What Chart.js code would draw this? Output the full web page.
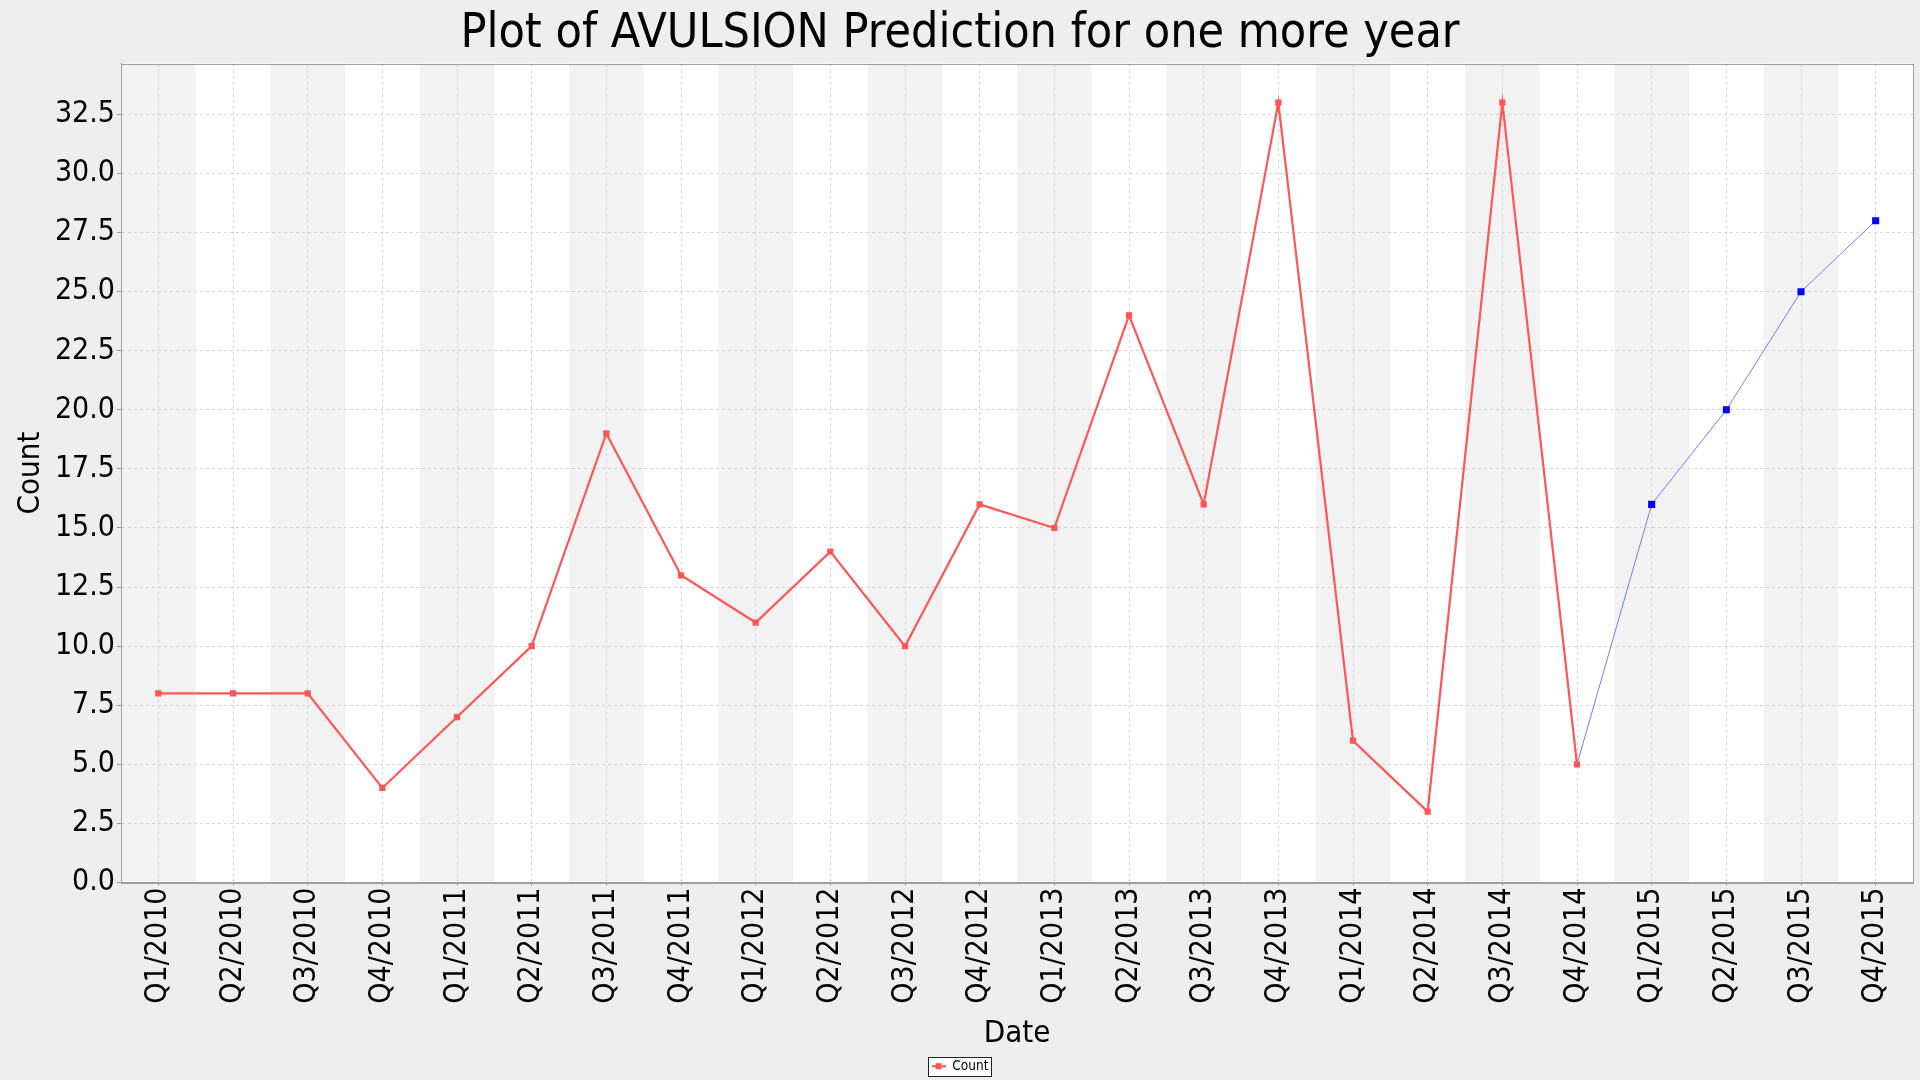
<!DOCTYPE html>
<html>
<head>
<meta charset="utf-8">
<title>Plot of AVULSION Prediction</title>
<script src="https://cdn.jsdelivr.net/npm/chart.js@4.4.1/dist/chart.umd.min.js"></script>
<style>
    html, body { margin: 0; padding: 0; background: #eeeeee; }
    #wrap { width: 1920px; height: 1080px; position: relative; }
</style>
</head>
<body>
<div id="wrap"><canvas id="avulsion-chart"></canvas></div>
<script>
// Chart data
const quarterLabels = [
    'Q1/2010', 'Q2/2010', 'Q3/2010', 'Q4/2010',
    'Q1/2011', 'Q2/2011', 'Q3/2011', 'Q4/2011',
    'Q1/2012', 'Q2/2012', 'Q3/2012', 'Q4/2012',
    'Q1/2013', 'Q2/2013', 'Q3/2013', 'Q4/2013',
    'Q1/2014', 'Q2/2014', 'Q3/2014', 'Q4/2014',
    'Q1/2015', 'Q2/2015', 'Q3/2015', 'Q4/2015',
];
const actualCounts = [8, 8, 8, 4, 7, 10, 19, 13, 11, 14, 10, 16, 15, 24, 16, 33, 6, 3, 33, 5];
// prediction line starts from the last actual quarter (Q4/2014)
const predictedCounts = [5, 16, 20, 25, 28];
const yTickStep = 2.5;
const yAxisMax = 34.65;

const predictionStart = actualCounts.length - 1;
const actualSeries = quarterLabels.map((_, i) => (i < actualCounts.length ? actualCounts[i] : null));
const predictedSeries = quarterLabels.map((_, i) => (i >= predictionStart ? predictedCounts[i - predictionStart] : null));

const FONT = "'DejaVu Sans Condensed', 'DejaVu Sans', sans-serif";
Chart.defaults.font.family = FONT;
Chart.defaults.color = '#000000';

// legend marker: short line with a square in the middle
function legendMarker() {
    const c = document.createElement('canvas');
    c.width = 14;
    c.height = 8;
    const g = c.getContext('2d');
    g.fillStyle = '#ff5555';
    g.fillRect(0, 3, 14, 2);
    g.fillRect(4, 1, 6, 6);
    return c;
}

// page background, plot background with alternating category bands, legend box
const plotBackground = {
    id: 'plotBackground',
    beforeDraw(chart) {
        const { ctx, chartArea: a, scales: { x } } = chart;
        ctx.save();
        ctx.fillStyle = '#eeeeee';
        ctx.fillRect(0, 0, chart.width, chart.height);
        ctx.fillStyle = '#ffffff';
        ctx.fillRect(a.left, a.top, a.right - a.left, a.bottom - a.top);
        const half = (x.getPixelForValue(1) - x.getPixelForValue(0)) / 2;
        ctx.fillStyle = '#f2f2f2';
        quarterLabels.forEach((_, i) => {
            if (i % 2 !== 0) return;
            const cx = x.getPixelForValue(i);
            ctx.fillRect(cx - half, a.top, half * 2, a.bottom - a.top);
        });

        const hb = chart.legend && chart.legend.legendHitBoxes && chart.legend.legendHitBoxes[0];
        if (hb) {
            const l = Math.round(hb.left) - 3.5, t = Math.round(hb.top) - 2.5;
            const w = Math.round(hb.width) + 6, h = Math.round(hb.height) + 5;
            ctx.fillStyle = '#ffffff';
            ctx.fillRect(l, t, w, h);
            ctx.strokeStyle = '#222222';
            ctx.lineWidth = 1;
            ctx.strokeRect(l, t, w, h);
        }
        ctx.restore();
    },
    beforeDatasetsDraw(chart) {
        const { ctx, chartArea: a } = chart;
        ctx.save();
        ctx.strokeStyle = '#a0a0a0';
        ctx.lineWidth = 1;
        ctx.strokeRect(Math.round(a.left) + 0.5, Math.round(a.top) + 0.5,
            Math.round(a.right - a.left), Math.round(a.bottom - a.top));
        ctx.restore();
    },
};

const ctx = document.getElementById('avulsion-chart');
new Chart(ctx, {
    type: 'line',
    data: {
        labels: quarterLabels,
        datasets: [{
            label: 'Count',
            data: actualSeries,
            borderColor: '#ff5555',
            backgroundColor: '#ff5555',
            borderWidth: 2.2,
            tension: 0,
            pointStyle: 'rect',
            pointRadius: 4.4,
            pointBorderWidth: 0,
            pointBackgroundColor: '#ff5555',
        }, {
            label: 'Prediction',
            data: predictedSeries,
            borderColor: '#7a7aff',
            backgroundColor: '#0000ff',
            borderWidth: 1,
            tension: 0,
            pointStyle: 'rect',
            pointRadius: c => (c.dataIndex === predictionStart ? 0 : 5),
            pointBorderWidth: 0,
            pointBackgroundColor: '#0000ff',
        }],
    },
    options: {
        responsive: true,
        maintainAspectRatio: false,
        animation: false,
        layout: { padding: { left: 7, right: 7, bottom: -3 } },
        plugins: {
            title: {
                display: true,
                text: 'Plot of AVULSION Prediction for one more year',
                color: '#000000',
                font: { size: 48, weight: 'normal' },
                padding: { top: 6, bottom: 0 },
            },
            legend: {
                position: 'bottom',
                labels: {
                    filter: item => item.datasetIndex === 0,
                    usePointStyle: true,
                    pointStyle: legendMarker(),
                    pointStyleWidth: 14,
                    color: '#000000',
                    font: { size: 13.5 },
                    padding: 7,
                },
            },
            tooltip: { enabled: false },
        },
        scales: {
            x: {
                offset: true,
                afterFit: s => { s.height = 170; },
                grid: { color: '#d6d6d6', lineWidth: 1, tickLength: 3, tickColor: '#999999' },
                border: { color: '#a0a0a0', dash: [3, 3] },
                ticks: {
                    autoSkip: false,
                    minRotation: 90,
                    maxRotation: 90,
                    padding: 2,
                    color: '#000000',
                    font: { size: 30 },
                },
                title: {
                    display: true,
                    text: 'Date',
                    color: '#000000',
                    font: { size: 31 },
                    padding: { top: 0, bottom: 0 },
                },
            },
            y: {
                min: 0,
                max: yAxisMax,
                afterFit: s => { s.width = 114; },
                grid: { color: '#d6d6d6', lineWidth: 1, tickLength: 4, tickColor: '#999999' },
                border: { color: '#a0a0a0', dash: [3, 3] },
                ticks: {
                    stepSize: yTickStep,
                    includeBounds: false,
                    padding: 2,
                    color: '#000000',
                    font: { size: 30 },
                    callback: v => v.toFixed(1),
                },
                title: {
                    display: true,
                    text: 'Count',
                    color: '#000000',
                    font: { size: 31 },
                    padding: { top: 5, bottom: 0 },
                },
            },
        },
    },
    plugins: [plotBackground],
});
</script>
</body>
</html>
